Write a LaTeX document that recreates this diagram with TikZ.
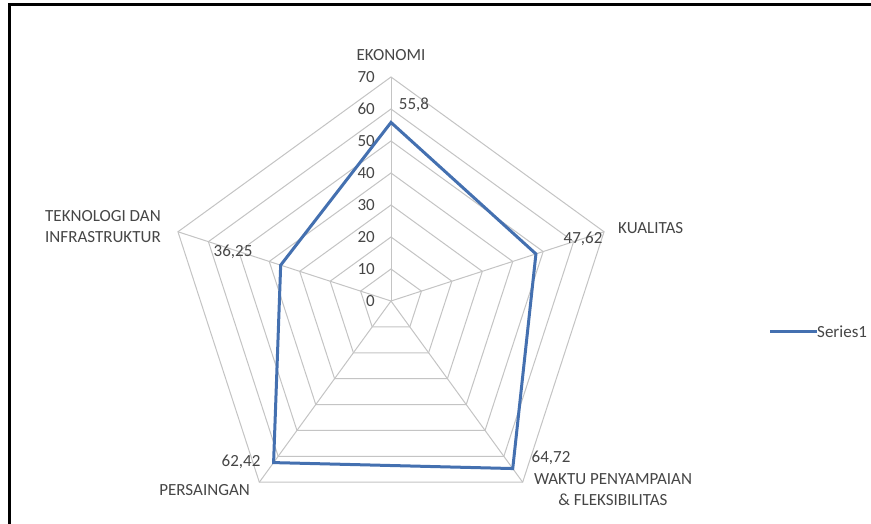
\documentclass[tikz,border=0pt]{standalone}
\usepackage{fontspec}
\setmainfont{Carlito}
\usetikzlibrary{calc}
\definecolor{serblue}{RGB}{68,112,176}
\definecolor{txtgray}{RGB}{70,70,70}
\definecolor{gridgray}{RGB}{196,196,196}
\tikzset{
  gridline/.style={draw=gridgray, line width=1pt},
  serline/.style={draw=serblue, line width=3pt, line join=miter},
  lbl/.style={font=\fontsize{17}{21}\selectfont, text=txtgray, inner sep=0pt},
}
\begin{document}
\begin{tikzpicture}[x=1pt,y=1pt]
\useasboundingbox (0,0) rectangle (871,523);
\fill[white] (0,0) rectangle (871,523);
% frame (left and top edges visible)
\draw[line width=3pt] (9,-5) -- (9,518) -- (880,518);
\coordinate (c) at (391,222);
% rings
\foreach \k in {1,...,7}{
  \draw[gridline] ($(c)+(90:\k*32)$) -- ($(c)+(18:\k*32)$) -- ($(c)+(-54:\k*32)$) -- ($(c)+(-126:\k*32)$) -- ($(c)+(162:\k*32)$) -- cycle;
}
% spokes
\foreach \a/\n in {90/ek,18/ku,-54/wa,-126/pe,162/te}{
  \coordinate (v\n) at ($(c)+(\a:224)$);
  \draw[gridline] (c) -- (v\n);
}
% tick labels
\foreach \k in {0,...,7}{
  \pgfmathtruncatemacro{\val}{\k*10}
  \node[lbl, anchor=east] (t\k) at (375,{222+32*\k}) {\val};
}
% data points
\coordinate (dek) at ($(c)+(90:{55.8/70*224})$);
\coordinate (dku) at ($(c)+(18:{47.62/70*224})$);
\coordinate (dwa) at ($(c)+(-54:{64.72/70*224})$);
\coordinate (dpe) at ($(c)+(-126:{62.42/70*224})$);
\coordinate (dte) at ($(c)+(162:{36.25/70*224})$);
\draw[serline] (dek) -- (dku) -- (dwa) -- (dpe) -- (dte) -- cycle;
% data labels
\node[lbl] (lek) at (414,418) {55,8};
\node[lbl] (lku) at (583,284) {47,62};
\node[lbl] (lwa) at (551,65) {64,72};
\node[lbl] (lpe) at (241,61) {62,42};
\node[lbl] (lte) at (233,271) {36,25};
% category labels
\node[lbl] (cek) at (391,468) {EKONOMI};
\node[lbl, anchor=west] (cku) at (618,295) {KUALITAS};
\node[lbl, align=center] (cwa) at (613,33.5) {WAKTU PENYAMPAIAN\\\& FLEKSIBILITAS};
\node[lbl, anchor=east] (cpe) at (250,33) {PERSAINGAN};
\node[lbl, anchor=west, align=left] (cte) at (45,296) {TEKNOLOGI DAN\\INFRASTRUKTUR};
% legend
\coordinate (lg1) at (770,191);
\node[lbl, anchor=west] (lgt) at (817,191) {Series1};
\draw[serline] (lg1) -- (lgt.west);
\end{tikzpicture}
\end{document}
